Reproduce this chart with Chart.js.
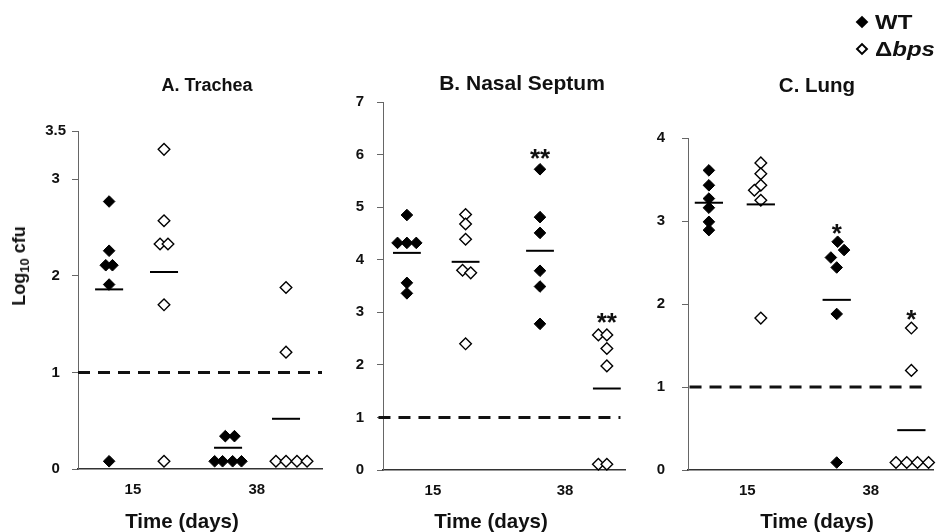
<!DOCTYPE html>
<html>
<head>
<meta charset="utf-8">
<script src="https://cdn.jsdelivr.net/npm/chart.js@4/dist/chart.umd.min.js"></script>
<style>
html,body{margin:0;padding:0;background:#fff;}
#wrap{position:relative;width:941px;height:532px;overflow:hidden;font-family:"Liberation Sans",Arial,sans-serif;font-weight:bold;color:#111;}
#wrap canvas{position:absolute;top:0;}
.t{position:absolute;white-space:nowrap;line-height:1;}
.c{transform:translateX(-50%);}
.dia{position:absolute;width:9px;height:9px;box-sizing:border-box;transform:translate(-50%,-50%) rotate(45deg);}
sub{font-size:13px;line-height:0;vertical-align:baseline;position:relative;top:4px;}
</style>
</head>
<body>
<div id="wrap">
  <canvas id="cA" width="330" height="532" style="left:0px;width:330px;height:532px"></canvas>
  <canvas id="cB" width="305" height="532" style="left:330px;width:305px;height:532px"></canvas>
  <canvas id="cC" width="306" height="532" style="left:635px;width:306px;height:532px"></canvas>

  <div class="t c" style="left:207px;top:76px;font-size:18px">A. Trachea</div>
  <div class="t c" style="left:522px;top:72px;font-size:21px">B. Nasal Septum</div>
  <div class="t c" style="left:817px;top:75px;font-size:20.5px">C. Lung</div>

  <div class="t c" style="left:182px;top:511px;font-size:20.5px">Time (days)</div>
  <div class="t c" style="left:491px;top:511px;font-size:20.5px">Time (days)</div>
  <div class="t c" style="left:817px;top:511px;font-size:20.5px">Time (days)</div>

  <div class="t" style="left:19px;top:266px;font-size:18px;transform:translate(-50%,-50%) rotate(-90deg)">Log<sub>10</sub> cfu</div>

  <div class="dia" style="left:862px;top:22px;background:#000"></div>
  <div class="dia" style="left:862px;top:49px;background:#fff;border:2px solid #000"></div>
  <div class="t" style="left:875px;top:12px;font-size:20px;transform:scaleX(1.2);transform-origin:left top">WT</div>
  <div class="t" style="left:875px;top:39px;font-size:20px;transform:scaleX(1.2);transform-origin:left top">Δ<i>bps</i></div>
</div>

<script>
// ---------- data ----------
const dayLabels = ['15', '38'];
const groupNames = ['WT day 15', 'Δbps day 15', 'WT day 38', 'Δbps day 38'];
const detectionLimit = 1;

// A. Trachea (log10 cfu)
const tracheaTicks = [0, 1, 2, 3, 3.5];
const tracheaWT15  = [2.77, 2.26, 2.11, 2.11, 1.91, 0.08];
const tracheaBps15 = [3.31, 2.57, 2.33, 2.33, 1.70, 0.08];
const tracheaWT38  = [0.34, 0.34, 0.08, 0.08, 0.08, 0.08];
const tracheaBps38 = [1.88, 1.21, 0.08, 0.08, 0.08, 0.08];
const tracheaMeans = [1.86, 2.04, 0.22, 0.52];
const tracheaSig   = ['', '', '', ''];
const tracheaSigAt = [null, null, null, null];

// B. Nasal Septum
const nasalTicks = [0, 1, 2, 3, 4, 5, 6, 7];
const nasalWT15  = [4.85, 4.32, 4.32, 4.32, 3.56, 3.36];
const nasalBps15 = [4.86, 4.68, 4.39, 3.80, 3.75, 2.40];
const nasalWT38  = [5.72, 4.81, 4.51, 3.79, 3.49, 2.78];
const nasalBps38 = [2.57, 2.57, 2.31, 1.98, 0.11, 0.11];
const nasalMeans = [4.13, 3.96, 4.17, 1.55];
const nasalSig   = ['', '', '**', '**'];
const nasalSigAt = [null, null, 6.05, 2.92];

// C. Lung
const lungTicks = [0, 1, 2, 3, 4];
const lungWT15  = [3.61, 3.43, 3.27, 3.16, 2.99, 2.89];
const lungBps15 = [3.70, 3.57, 3.43, 3.37, 3.25, 1.83];
const lungWT38  = [2.75, 2.65, 2.56, 2.44, 1.88, 0.09];
const lungBps38 = [1.71, 1.20, 0.09, 0.09, 0.09, 0.09];
const lungMeans = [3.22, 3.20, 2.05, 0.48];
const lungSig   = ['', '', '*', '*'];
const lungSigAt = [null, null, 2.93, 1.89];

// ---------- layout (positions / styling only) ----------
const layouts = {
  A: {id: 'cA', w: 330, top: 131, left: 78, right: 322, bottom: 469, tickPad: 6,
      groupX: [1.02, 2.82, 4.92, 6.82], tickX: [1.8, 5.86], dash: [0, 8],
      jitter: [[0, 0, -0.11, 0.11, 0, 0], [0, 0, -0.13, 0.13, 0, 0],
               [-0.09, 0.21, -0.44, -0.18, 0.15, 0.44], [0, 0, -0.33, 0, 0.36, 0.69]]},
  B: {id: 'cB', w: 305, top: 102, left: 53, right: 295, bottom: 470, tickPad: 13,
      groupX: [0.79, 2.73, 5.19, 7.40], tickX: [1.65, 6.02], dash: [-0.15, 7.85],
      jitter: [[0, -0.31, 0, 0.31, 0, 0], [0, 0, 0, -0.1, 0.17, 0],
               [0, 0, 0, 0, 0, 0], [-0.28, 0, 0, 0, -0.28, 0]]},
  C: {id: 'cC', w: 306, top: 138, left: 53, right: 302, bottom: 470, tickPad: 17,
      groupX: [0.68, 2.37, 4.84, 7.27], tickX: [1.93, 5.95], dash: [0.05, 7.65],
      jitter: [[0, 0, 0, 0, 0, 0], [0, 0, 0, -0.21, 0, 0],
               [0.03, 0.24, -0.19, 0, 0, 0], [0, 0, -0.5, -0.15, 0.2, 0.56]]}
};
const H = 532;
const tickFont = {family: 'Liberation Sans', size: 15, weight: 'bold'};

const sigPlugin = {
  id: 'sig',
  afterDatasetsDraw(chart, args, opts) {
    const ctx = chart.ctx, xs = chart.scales.x, ys = chart.scales.y;
    ctx.save();
    ctx.font = 'bold 26px "Liberation Sans"';
    ctx.fillStyle = '#111';
    ctx.textAlign = 'center';
    ctx.textBaseline = 'alphabetic';
    opts.text.forEach((t, g) => {
      if (!t) return;
      const x = xs.getPixelForValue(opts.groupX[g]);
      const y = ys.getPixelForValue(opts.at[g]);
      ctx.fillText(t, x, y + 0.575 * 26);
    });
    ctx.restore();
  }
};

function makePanel(lay, series, means, yTicks, sig, sigAt) {
  const datasets = [];
  series.forEach((vals, g) => {
    const filled = g % 2 === 0;
    datasets.push({
      label: groupNames[g], order: 2, clip: false, showLine: false,
      data: vals.map((v, i) => ({x: lay.groupX[g] + lay.jitter[g][i], y: v})),
      pointStyle: 'rectRot', pointRadius: 5.8, pointHoverRadius: 5.8,
      pointBackgroundColor: filled ? '#000' : '#fff',
      pointBorderColor: '#000', pointBorderWidth: filled ? 1 : 1.4
    });
  });
  means.forEach((m, g) => {
    datasets.push({
      label: 'mean ' + groupNames[g], order: 1, clip: false, showLine: true,
      data: [{x: lay.groupX[g] - 0.46, y: m}, {x: lay.groupX[g] + 0.46, y: m}],
      borderColor: '#000', borderWidth: 2, pointRadius: 0
    });
  });
  datasets.push({
    label: 'limit of detection', order: 0, clip: false, showLine: true,
    data: [{x: lay.dash[0], y: detectionLimit}, {x: lay.dash[1], y: detectionLimit}],
    borderColor: '#111', borderWidth: 3, borderDash: [12, 8], pointRadius: 0
  });

  return new Chart(document.getElementById(lay.id), {
    type: 'scatter',
    data: {datasets},
    plugins: [sigPlugin],
    options: {
      responsive: false, animation: false, devicePixelRatio: 1,
      layout: {padding: {top: lay.top, right: lay.w - lay.right, bottom: 0, left: 0}},
      plugins: {legend: {display: false}, tooltip: {enabled: false},
                sig: {text: sig, at: sigAt, groupX: lay.groupX}},
      scales: {
        x: {
          type: 'linear', min: 0, max: 8,
          afterBuildTicks: s => { s.ticks = lay.tickX.map(v => ({value: v})); },
          afterFit: s => { s.height = H - lay.bottom; },
          ticks: {callback: (v, i) => dayLabels[i], font: tickFont, color: '#111',
                  padding: 4, autoSkip: false, maxRotation: 0},
          grid: {display: false},
          border: {display: true, color: '#333', width: 1.5}
        },
        y: {
          type: 'linear', min: 0, max: yTicks[yTicks.length - 1],
          afterBuildTicks: s => { s.ticks = yTicks.map(v => ({value: v})); },
          afterFit: s => { s.width = lay.left; },
          ticks: {callback: v => String(v), font: tickFont, color: '#111',
                  padding: lay.tickPad, crossAlign: 'center', autoSkip: false},
          grid: {display: true, drawOnChartArea: false, drawTicks: true,
                 tickLength: 6, tickColor: '#666', tickWidth: 1},
          border: {display: true, color: '#666', width: 1}
        }
      }
    }
  });
}

makePanel(layouts.A, [tracheaWT15, tracheaBps15, tracheaWT38, tracheaBps38],
          tracheaMeans, tracheaTicks, tracheaSig, tracheaSigAt);
makePanel(layouts.B, [nasalWT15, nasalBps15, nasalWT38, nasalBps38],
          nasalMeans, nasalTicks, nasalSig, nasalSigAt);
makePanel(layouts.C, [lungWT15, lungBps15, lungWT38, lungBps38],
          lungMeans, lungTicks, lungSig, lungSigAt);
</script>
</body>
</html>
